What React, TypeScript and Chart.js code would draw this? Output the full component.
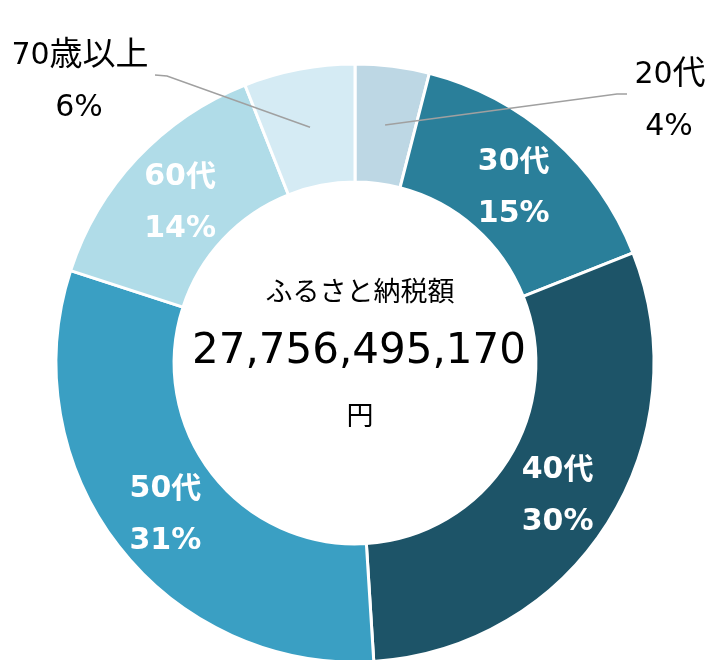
import React, { useEffect, useRef } from "react";
import { Chart, registerables } from "chart.js";

Chart.register(...registerables);

const categories = ["20代", "30代", "40代", "50代", "60代", "70歳以上"];
const shares = [4, 15, 30, 31, 14, 6];
const percentLabels = ["4%", "15%", "30%", "31%", "14%", "6%"];
const colors = ["#BDD7E4", "#2A7F9A", "#1D5468", "#3A9FC3", "#B0DCE8", "#D5EBF4"];
const centerTitle = "ふるさと納税額";
const centerAmount = "27,756,495,170";
const centerUnit = "円";
const outsideIdx = [0, 5];

const LATIN = "'DejaVu Sans', sans-serif";
const CJK = "'Noto Sans CJK JP', sans-serif";

function isCJK(ch: string) {
  return /[\u3000-\u9fff\uff00-\uffef]/.test(ch);
}

function drawMixed(ctx: CanvasRenderingContext2D, text: string, x: number, y: number, size: number, weight: string, cjkScale: number) {
  const chars = Array.from(text);
  const fontFor = (ch: string) =>
    isCJK(ch) ? `${weight} ${Math.round(size * cjkScale)}px ${CJK}` : `${weight} ${size}px ${LATIN}`;
  let total = 0;
  const widths = chars.map((ch) => {
    ctx.font = fontFor(ch);
    const w = ctx.measureText(ch).width;
    total += w;
    return w;
  });
  let cur = x - total / 2;
  const base = y + 0.35 * size;
  ctx.textAlign = "left";
  ctx.textBaseline = "alphabetic";
  chars.forEach((ch, k) => {
    ctx.font = fontFor(ch);
    const off = isCJK(ch) ? 0.04 * size : 0;
    ctx.fillText(ch, cur, base + off);
    cur += widths[k];
  });
  ctx.textAlign = "center";
  ctx.textBaseline = "middle";
}

const labelPlugin = {
  id: "labelPlugin",
  afterDatasetsDraw(chart: any) {
    const ctx = chart.ctx;
    const meta = chart.getDatasetMeta(0);
    const first = meta.data[0];
    const cx = first.x;
    const cy = first.y;
    ctx.save();
    ctx.textAlign = "center";
    ctx.textBaseline = "middle";
    meta.data.forEach((arc: any, i: number) => {
      const p = arc.tooltipPosition();
      if (outsideIdx.indexOf(i) === -1) {
        ctx.fillStyle = "#FFFFFF";
        drawMixed(ctx, categories[i], p.x, p.y - 24, 30, "bold", 1.0);
        drawMixed(ctx, percentLabels[i], p.x, p.y + 28, 30, "bold", 1.0);
      } else {
        const right = i === 0;
        const elbow = right ? { x: cx + 262, y: cy - 269 } : { x: cx - 188, y: cy - 287 };
        const end = right ? { x: cx + 272, y: cy - 269 } : { x: cx - 200, y: cy - 288 };
        ctx.strokeStyle = "#A0A0A0";
        ctx.lineWidth = 1.5;
        ctx.beginPath();
        ctx.moveTo(p.x, p.y);
        ctx.lineTo(elbow.x, elbow.y);
        ctx.lineTo(end.x, end.y);
        ctx.stroke();
        ctx.fillStyle = "#000000";
        const tx = right ? cx + 315 : cx - 275;
        const ty = right ? cy - 291 : cy - 310;
        drawMixed(ctx, categories[i], tx, ty, 30, "normal", 1.1);
        drawMixed(ctx, percentLabels[i], tx - 1, ty + 52, 30, "normal", 1.1);
      }
    });
    // center text
    ctx.fillStyle = "#000000";
    drawMixed(ctx, centerTitle, cx + 5, cy - 73, 27, "normal", 1.0);
    ctx.font = "42px " + LATIN;
    ctx.fillText(centerAmount, cx + 4, cy - 11);
    drawMixed(ctx, centerUnit, cx + 5, cy + 51, 27, "normal", 1.0);
    ctx.restore();
  },
};

export default function App() {
  const ref = useRef<HTMLCanvasElement | null>(null);
  useEffect(() => {
    document.body.style.margin = "0";
    const canvas = ref.current;
    if (!canvas) return;
    const chart = new Chart(canvas, {
      type: "doughnut",
      data: {
        labels: categories,
        datasets: [
          {
            data: shares,
            backgroundColor: colors,
            borderColor: "#FFFFFF",
            borderWidth: 3,
          },
        ],
      },
      options: {
        responsive: false,
        animation: false,
        cutout: "60.5%",
        layout: { padding: { left: 54.5, right: 53.5, top: 62.5, bottom: 36.5 } },
        plugins: {
          legend: { display: false },
          tooltip: { enabled: false },
        },
      },
      plugins: [labelPlugin],
    });
    return () => chart.destroy();
  }, []);
  return (
    <div style={{ width: 709, height: 660, overflow: "hidden", background: "#FFFFFF" }}>
      <canvas ref={ref} width={709} height={700} style={{ display: "block" }} />
    </div>
  );
}
